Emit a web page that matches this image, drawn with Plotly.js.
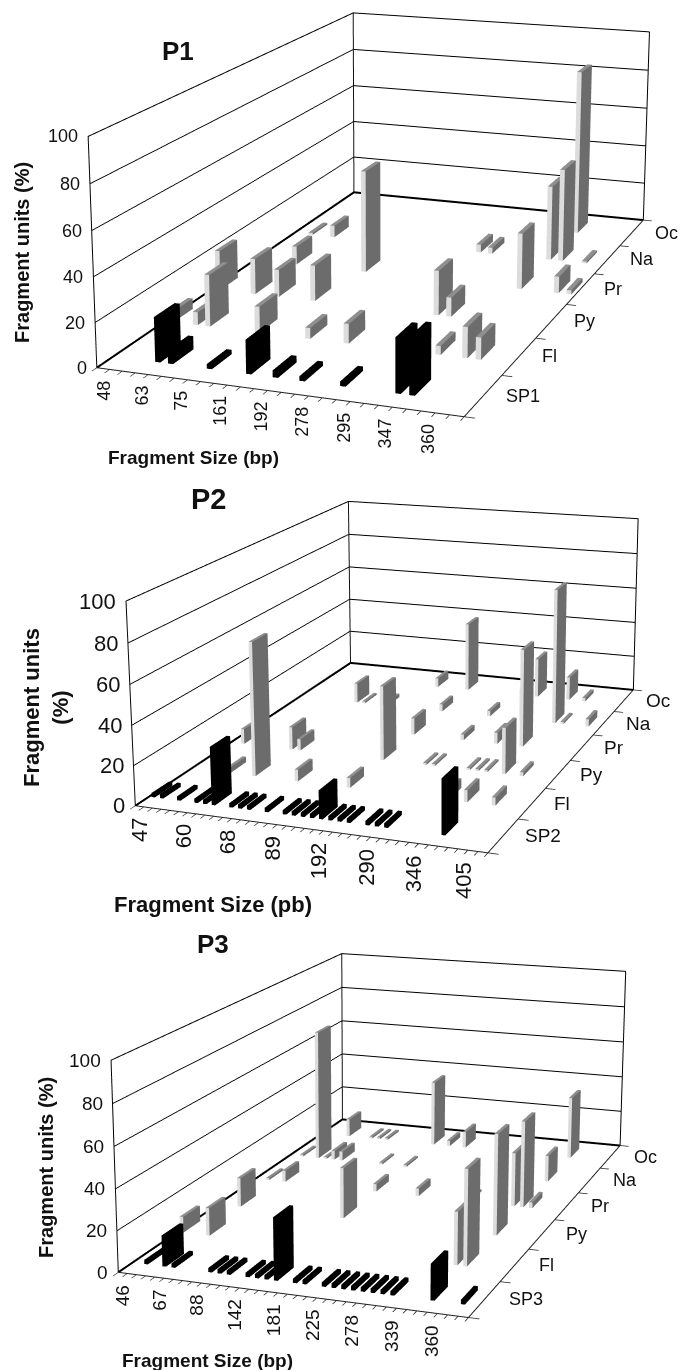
<!DOCTYPE html><html><head><meta charset="utf-8"><style>html,body{margin:0;padding:0;width:680px;height:1370px;overflow:hidden;background:#fff}.p{position:absolute}</style></head><body>
<script src="https://cdn.plot.ly/plotly-3.0.0.min.js"></script>
<script>
// Fragment-size tick labels and front-to-back host categories
const sizes1=[48,63,75,161,192,278,295,347,360];
const sizes2=[47,60,68,89,192,290,346,405];
const sizes3=[46,67,88,142,181,225,278,339,360];
const rows1=['SP1','Fl','Py','Pr','Na','Oc'];
const rows2=['SP2','Fl','Py','Pr','Na','Oc'];
const rows3=['SP3','Fl','Py','Pr','Na','Oc'];
const percent=[0,20,40,60,80,100];
// Each pair: [fragment slot, fragment units %]
const p1SP=[[3,20],[4,6],[7,2],[10,15],[12,3],[14,2],[17,2],[21,24],[22,25]];
const p1Fl=[[2,6],[3,24],[0,5],[7,12],[11,5],[14,9],[21,4],[23,14],[24,10]];
const p1Py=[[0,19],[3,17],[5,13],[8,17],[18,21],[19,9]];
const p1Pr=[[3,9],[9,50],[22,27],[25,8],[26,2]];
const p1Na=[[3,6],[1,1],[16,4],[17,3],[22,37],[23,46],[25,1]];
const p1Oc=[[22,84]];
const p2SP=[[0,2],[1,2],[3,2],[5,2],[6,2],[7,29],[9,2],[10,2],[11,2],[13,2],[15,2],[16,2],[17,2],[18,2],[19,14],[20,2],[21,2],[22,2],[24,2],[25,2],[26,2],[32,27]];
const p2Fl=[[4,3],[7,69],[12,6],[18,5],[29,5],[31,6],[34,4]];
const p2Py=[[1,8],[7,12],[8,6],[18,39],[23,1],[24,1],[28,1],[29,1],[30,1],[32,24],[34,2]];
const p2Pr=[[18,9],[24,3],[28,6],[31,52]];
const p2Na=[[7,11],[8,1],[11,2],[18,4],[24,3],[28,17],[32,74],[33,1],[36,4]];
const p2Oc=[[14,5],[18,39],[27,22],[31,13],[33,2]];
const p3SP=[[1,2],[3,15],[4,2],[8,2],[9,2],[10,2],[12,2],[13,2],[14,2],[15,30],[17,2],[18,2],[20,2],[21,2],[22,2],[23,2],[24,2],[25,2],[26,2],[27,2],[31,17],[34,2]];
const p3Fl=[[0,8],[3,14],[30,26],[31,47]];
const p3Py=[[2,15],[14,26],[31,51]];
const p3Pr=[[1,1],[3,6],[14,4],[19,4],[25,1],[28,1],[30,28],[31,45],[32,3]];
const p3Na=[[1,1],[3,71],[4,1],[5,5],[6,5],[11,1],[14,1],[31,14]];
const p3Oc=[[3,10],[6,1],[7,1],[8,1],[14,36],[16,3],[18,9],[31,34]];

function bars(seriesList,isBlack){
  var x=[],y=[],z=[],i=[],j=[],k=[],fc=[],w=.2;
  seriesList.forEach(function(s){
    var r=s.row;
    s.data.forEach(function(d){
      var c=d[0]+.5,m=r+.5,h=d[1],b=x.length;
      var X=[c-w,c+w,c+w,c-w,c-w,c+w,c+w,c-w],Y=[m-w,m-w,m+w,m+w,m-w,m-w,m+w,m+w],Z=[0,0,0,0,h,h,h,h];
      for(var q=0;q<8;q++){x.push(X[q]);y.push(Y[q]);z.push(Z[q]);}
      [[0,1,5,'#dcdcdc'],[0,5,4,'#dcdcdc'],[1,2,6,'#6c6c6c'],[1,6,5,'#6c6c6c'],[4,5,6,'#8f8f8f'],[4,6,7,'#8f8f8f']].forEach(function(t){
        i.push(b+t[0]);j.push(b+t[1]);k.push(b+t[2]);fc.push(isBlack?'#000000':t[3]);});
    });
  });
  return {type:'mesh3d',x:x,y:y,z:z,i:i,j:j,k:k,facecolor:fc,flatshading:true,hoverinfo:'skip',showscale:false,
    lighting:{ambient:1,diffuse:0,specular:0,roughness:1,fresnel:0},lightposition:{x:0,y:0,z:1000}};
}
function frame(pts,color,width){
  return {type:'scatter3d',mode:'lines',x:pts.map(p=>p[0]),y:pts.map(p=>p[1]),z:pts.map(p=>p[2]),
    line:{color:color,width:width},hoverinfo:'skip',showlegend:false};
}
function seq(n){var a=[];for(var q=0;q<=n;q++)a.push(q);return a;}

function draw(o){
  var h=o.F/1.20711,left=o.px-h/2,top=o.py-h/2,div=document.createElement('div');
  div.className='p';div.style.left=left+'px';div.style.top=top+'px';div.style.width=h+'px';div.style.height=h+'px';
  document.body.appendChild(div);
  var n=o.n;
  var traces=[
    bars([{row:0,data:o.series[0]}],true),
    bars(o.series.slice(1).map((d,r)=>({row:r+1,data:d})),false),
    frame([[0,0,0],[0,6,0],[n,6,0]],'#000',4),
    frame([[0,6,0],[0,6,100]],'#111',2),
    frame([[0,0,0],[0,0,100],[0,6,100],[n,6,100],[n,6,0]],'#000',2),
    frame([[0,0,0],[n,0,0],[n,6,0]],'#222',2)
  ];
  var ann=[];
  o.sizes.forEach(function(s,q){ann.push({x:q*o.step+.5,y:0,z:0,text:String(s),showarrow:false,textangle:-90,xanchor:'center',yanchor:'top',yshift:-o.tickShift,font:{family:'Liberation Sans',size:o.tf,color:'#111'}});});
  o.rows.forEach(function(s,q){ann.push({x:n,y:q+.5,z:0,text:s,showarrow:false,xanchor:'left',yanchor:'middle',xshift:o.rs,font:{family:'Liberation Sans',size:o.rf,color:'#111'}});});
  percent.forEach(function(v){ann.push({x:0,y:0,z:v,text:String(v),showarrow:false,xanchor:'right',yanchor:'middle',xshift:-8,font:{family:'Liberation Sans',size:o.tf,color:'#111'}});});
  function pa(text,px,py,size,angle){return {xref:'paper',yref:'paper',x:(px-left)/h,y:1-(py-top)/h,text:text,showarrow:false,xanchor:'center',yanchor:'middle',textangle:angle||0,font:{family:'Liberation Sans',size:size,color:'#111',weight:700}};}
  var ax={showbackground:false,showspikes:false,zeroline:false,showline:true,linecolor:'#222',linewidth:1,showticklabels:true,tickfont:{size:1,color:'rgba(255,255,255,0)'},title:{text:''},ticks:'outside',ticklen:8,tickwidth:2,tickcolor:'#333',showgrid:false,tickmode:'array'};
  Plotly.newPlot(div,traces,{
    width:h,height:h,margin:{l:0,r:0,t:0,b:0},paper_bgcolor:'rgba(0,0,0,0)',showlegend:false,
    annotations:[pa(o.title,o.tpos[0],o.tpos[1],o.tsize),pa(o.xtitle,o.xpos[0],o.xpos[1],o.xsize),pa(o.ytitle,o.ypos[0],o.ypos[1],o.ysize,-90)],
    scene:{domain:{x:[0,1],y:[0,1]},bgcolor:'rgba(0,0,0,0)',dragmode:'orbit',aspectmode:'manual',aspectratio:{x:1,y:o.ay,z:o.az},
      camera:{eye:{x:o.eye[0],y:o.eye[1],z:o.eye[2]},center:{x:o.ctr[0],y:o.ctr[1],z:o.ctr[2]},up:{x:o.up[0],y:o.up[1],z:o.up[2]},projection:{type:'perspective'}},
      xaxis:Object.assign({},ax,{range:[0,n],tickvals:seq(n)}),
      yaxis:Object.assign({},ax,{range:[0,6],tickvals:seq(6)}),
      zaxis:Object.assign({},ax,{range:[0,100],tickvals:percent,ticks:'',showgrid:true,gridcolor:'#000',gridwidth:2}),
      annotations:ann}
  },{displayModeBar:false,staticPlot:false});
}
draw({n:27,step:3,sizes:sizes1,rows:rows1,series:[p1SP,p1Fl,p1Py,p1Pr,p1Na,p1Oc],F:2093,px:350,py:183,ay:1.8608,az:.6165,
  eye:[1.9629,-5.4701,1.54],ctr:[-.1348,-.0499,.0014],up:[-.0881,.2403,.9667],tf:18,rf:18,rs:21,tickShift:10,
  title:'P1',tpos:[178,51],tsize:26,xtitle:'Fragment Size (bp)',xpos:[194,457],xsize:19,ytitle:'Fragment units (%)',ypos:[22,252],ysize:20});
draw({n:38,step:5,sizes:sizes2,rows:rows2,series:[p2SP,p2Fl,p2Py,p2Pr,p2Na,p2Oc],F:1790,px:349,py:637,ay:1.5468,az:.5696,
  eye:[1.7832,-4.7853,1.3658],ctr:[-.1628,-.0529,.0383],up:[-.0832,.2373,.9679],tf:22,rf:19,rs:20,tickShift:10,
  title:'P2',tpos:[208,499],tsize:29,xtitle:'Fragment Size (pb)',xpos:[213,904],xsize:22,ytitle:'Fragment units<br>(%)',ypos:[45,707],ysize:22});
draw({n:36,step:4,sizes:sizes3,rows:rows3,series:[p3SP,p3Fl,p3Py,p3Pr,p3Na,p3Oc],F:1924,px:343,py:1088,ay:1.7234,az:.5954,
  eye:[1.8511,-5.2974,1.4627],ctr:[-.1535,-.0402,.0582],up:[-.0824,.2278,.9702],tf:19,rf:18,rs:22,tickShift:10,
  title:'P3',tpos:[213,944],tsize:26,xtitle:'Fragment Size (bp)',xpos:[208,1360],xsize:19,ytitle:'Fragment units (%)',ypos:[46,1167],ysize:20});
</script></body></html>
